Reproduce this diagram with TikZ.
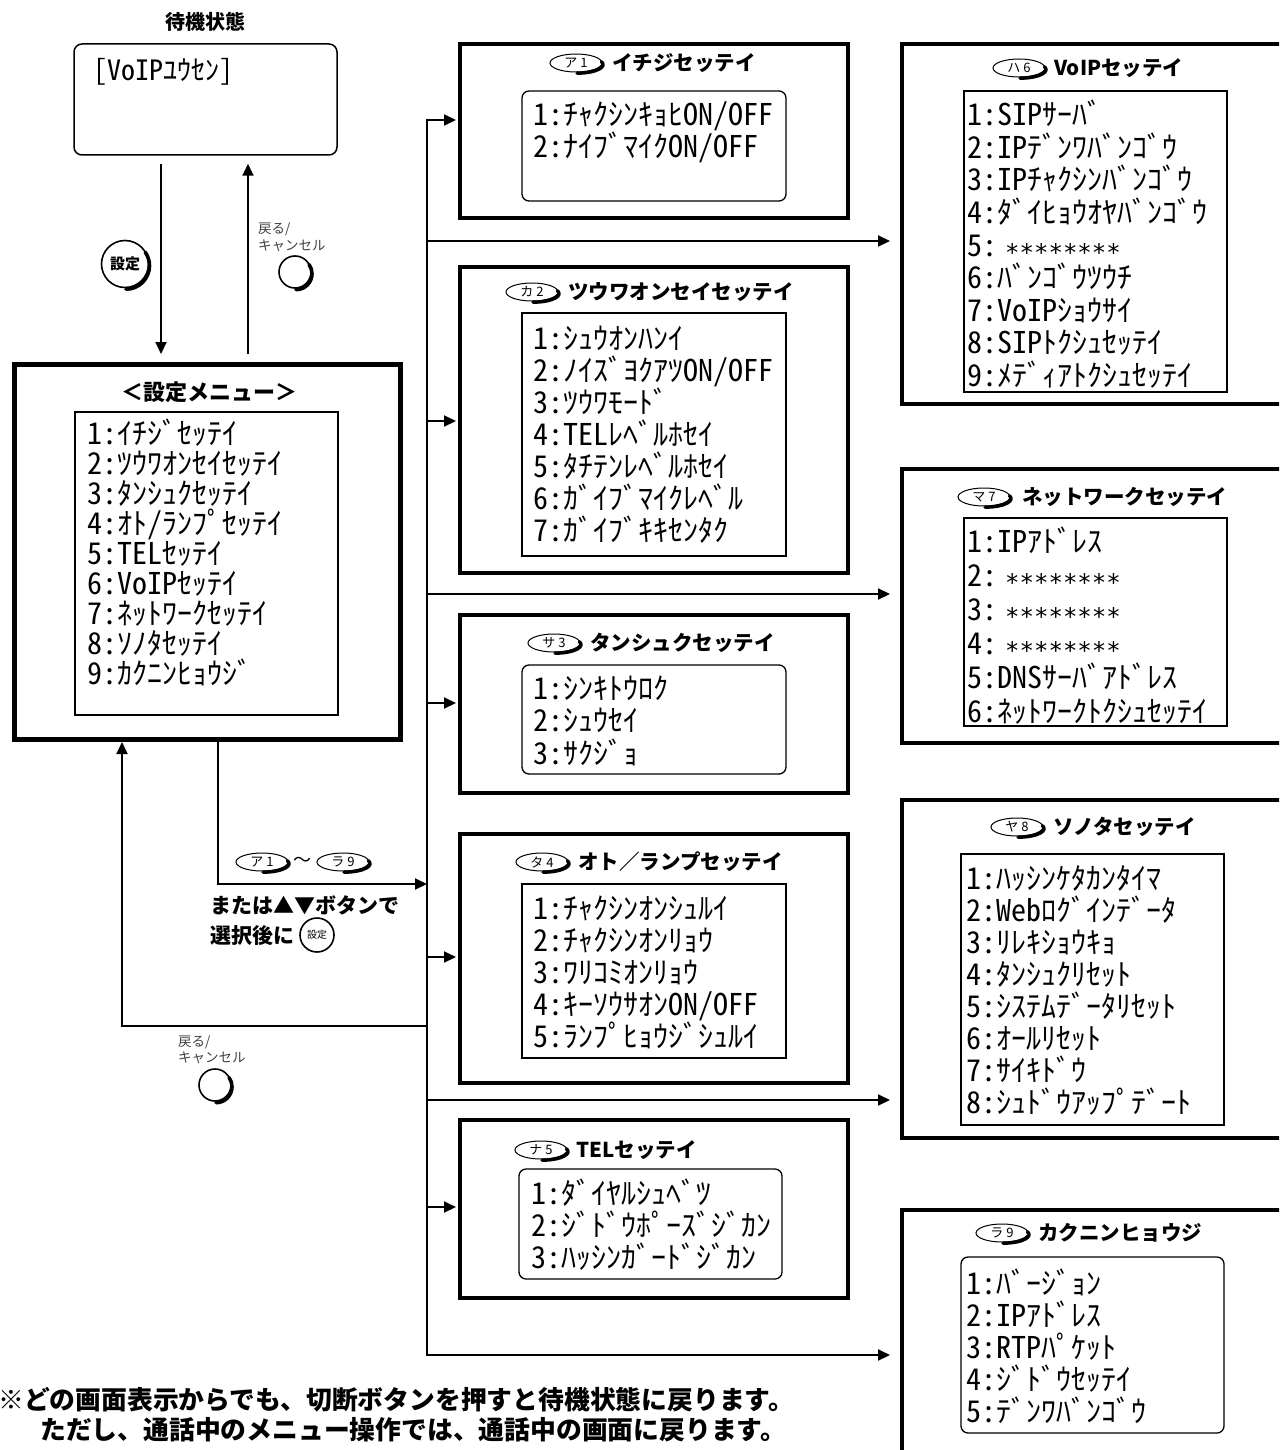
\documentclass[tikz,border=0pt]{standalone}
\usepackage{fontspec}
\usetikzlibrary{arrows.meta,shapes.geometric,calc}
\newfontfamily\jp{Noto Sans CJK JP}
\newfontfamily\jpl[RawFeature=+hwid]{Noto Sans CJK JP}
\newfontfamily\dvm{DejaVu Sans Mono}
\newcommand\boxnode[6][]{\node[#1, minimum width={#5-#3}, minimum height={#6-#4}] (#2) at ({(#3+#5)/2},{(#4+#6)/2}) {};}
\newcommand\listat[5]{\foreach \t [count=\i from 0] in {#5} {\node[listtxt] (#1-\i) at (#2,{#3+\i*#4}) {\t};}}
\newcommand\pillshade[1]{\draw[line width=3.4pt, line cap=round] ([shift={(1,0.7)}]#1.south) arc[start angle=90, end angle=-20, x radius=26, y radius=8.6];}
\newcommand\btnshade[2]{\draw[line width=3.6pt, line cap=round] ([shift={(1,0.9)}]#1.south) arc[start angle=90, end angle=-35, radius=#2];}
\newcommand\maskstars{\hspace{8pt}{\dvm\fontsize{24}{24}\selectfont ∗∗∗∗∗∗∗∗}}
\begin{document}
\begin{tikzpicture}[x=1pt,y=-1pt,
  listtxt/.style={font=\jpl\fontsize{30}{32}\selectfont, anchor=west, inner sep=0pt, text height=22pt, text depth=0pt},
  titletxt/.style={font=\jp\bfseries\fontsize{20.5}{22}\selectfont, anchor=west, inner sep=0pt, text height=15pt, text depth=0pt},
  boldtxt/.style={font=\jp\bfseries\fontsize{21}{22}\selectfont, anchor=west, inner sep=0pt, text height=15pt, text depth=0pt},
  notetxt/.style={font=\jp\bfseries\fontsize{25.8}{26}\selectfont, anchor=west, inner sep=0pt, text height=18pt, text depth=0pt},
  smalltxt/.style={font=\jp\fontsize{13.5}{14}\selectfont, text=black!75, anchor=west, inner sep=0pt},
  bigbox/.style={draw, line width=4pt},
  menubox/.style={draw, line width=5pt},
  inbox/.style={draw, line width=1.3pt},
  inrbox/.style={draw, line width=1.3pt, rounded corners=7pt},
  pill/.style={ellipse, draw, line width=1pt, minimum width=52pt, minimum height=18pt, inner sep=0pt, font=\jp\fontsize{13}{13}\selectfont},
  btn/.style={circle, draw, line width=1.6pt, inner sep=0pt},
  conn/.style={line width=2pt},
  arr/.style={line width=2pt, -{Triangle[length=12pt,width=11pt]}},
]
\useasboundingbox (0,0) rectangle (1279,1450);
\clip (0,0) rectangle (1279,1450);

% ---------- standby ----------
\node[font=\jp\bfseries\fontsize{20}{20}\selectfont, inner sep=0pt] (ttl) at (205,22) {待機状態};
\node[draw, rounded corners=8pt, line width=1.5pt, minimum width=263pt, minimum height=111pt] (stby) at (205.5,99.5) {};
\node[listtxt, font=\jpl\fontsize{28}{30}\selectfont] (stbytxt) at (93,70) {[VoIPﾕｳｾﾝ]};

% ---------- buttons between standby and menu ----------
\node[btn, minimum size=47pt, font=\jp\bfseries\fontsize{15}{15}\selectfont] (setbtn) at (125,264) {設定};
\btnshade{setbtn}{23.5}
\node[smalltxt] (clab1) at (258,229) {戻る/};
\node[smalltxt] (clab1b) at (258,246) {キャンセル};
\node[btn, minimum size=32pt] (cbtn1) at (295,272) {};
\btnshade{cbtn1}{16}

% ---------- menu ----------
\boxnode[menubox]{menu}{14.5}{364.5}{400.5}{739.5}
\node[font=\jp\bfseries\fontsize{22}{24}\selectfont, inner sep=0pt] (menuttl) at (209,392) {＜設定メニュー＞};
\boxnode[inbox]{menuin}{75}{412}{338}{715}
\listat{m}{87}{433}{30}{1:ｲﾁｼﾞｾｯﾃｲ,2:ﾂｳﾜｵﾝｾｲｾｯﾃｲ,3:ﾀﾝｼｭｸｾｯﾃｲ,4:ｵﾄ/ﾗﾝﾌﾟｾｯﾃｲ,5:TELｾｯﾃｲ,6:VoIPｾｯﾃｲ,7:ﾈｯﾄﾜｰｸｾｯﾃｲ,8:ｿﾉﾀｾｯﾃｲ,9:ｶｸﾆﾝﾋｮｳｼﾞ}

% ---------- column 2 ----------
\boxnode[bigbox]{b1}{460}{44}{848}{218}
\node[titletxt] (t1) at (612,63) {イチジセッテイ};
\node[pill] (p1) at (576,63) {ア 1};\pillshade{p1}
\boxnode[inrbox]{b1in}{522}{91}{786}{201}
\listat{l1}{533}{115}{32}{1:ﾁｬｸｼﾝｷｮﾋON/OFF,2:ﾅｲﾌﾞﾏｲｸON/OFF}

\boxnode[bigbox]{b2}{460}{267}{848}{573}
\node[titletxt] (t2) at (568,292) {ツウワオンセイセッテイ};
\node[pill] (p2) at (532,292) {カ 2};\pillshade{p2}
\boxnode[inbox]{b2in}{522}{313}{786}{556}
\listat{l2}{533}{338}{32}{1:ｼｭｳｵﾝﾊﾝｲ,2:ﾉｲｽﾞﾖｸｱﾂON/OFF,3:ﾂｳﾜﾓｰﾄﾞ,4:TELﾚﾍﾞﾙﾎｾｲ,5:ﾀﾁﾃﾝﾚﾍﾞﾙﾎｾｲ,6:ｶﾞｲﾌﾞﾏｲｸﾚﾍﾞﾙ,7:ｶﾞｲﾌﾞｷｷｾﾝﾀｸ}

\boxnode[bigbox]{b3}{460}{615}{848}{793}
\node[titletxt] (t3) at (590,643) {タンシュクセッテイ};
\node[pill] (p3) at (554,643) {サ 3};\pillshade{p3}
\boxnode[inrbox]{b3in}{522}{665}{786}{774}
\listat{l3}{533}{688}{32.5}{1:ｼﾝｷﾄｳﾛｸ,2:ｼｭｳｾｲ,3:ｻｸｼﾞｮ}

\boxnode[bigbox]{b4}{460}{834}{848}{1083}
\node[titletxt] (t4) at (578,862) {オト／ランプセッテイ};
\node[pill] (p4) at (542,862) {タ 4};\pillshade{p4}
\boxnode[inbox]{b4in}{522}{884}{786}{1058}
\listat{l4}{533}{908}{32}{1:ﾁｬｸｼﾝｵﾝｼｭﾙｲ,2:ﾁｬｸｼﾝｵﾝﾘｮｳ,3:ﾜﾘｺﾐｵﾝﾘｮｳ,4:ｷｰｿｳｻｵﾝON/OFF,5:ﾗﾝﾌﾟﾋｮｳｼﾞｼｭﾙｲ}

\boxnode[bigbox]{b5}{460}{1120}{848}{1298}
\node[titletxt] (t5) at (576,1150) {TELセッテイ};
\node[pill] (p5) at (541,1150) {ナ 5};\pillshade{p5}
\boxnode[inrbox]{b5in}{519}{1169}{782}{1279}
\listat{l5}{531}{1193}{32}{1:ﾀﾞｲﾔﾙｼｭﾍﾞﾂ,2:ｼﾞﾄﾞｳﾎﾟｰｽﾞｼﾞｶﾝ,3:ﾊｯｼﾝｶﾞｰﾄﾞｼﾞｶﾝ}

% ---------- column 3 ----------
\boxnode[bigbox]{b6}{902}{44}{1300}{404}
\node[titletxt] (t6) at (1054,68) {VoIPセッテイ};
\node[pill] (p6) at (1019,68) {ハ 6};\pillshade{p6}
\boxnode[inbox]{b6in}{964}{91}{1227}{392}
\listat{l6}{967}{115}{32.5}{1:SIPｻｰﾊﾞ,2:IPﾃﾞﾝﾜﾊﾞﾝｺﾞｳ,3:IPﾁｬｸｼﾝﾊﾞﾝｺﾞｳ,4:ﾀﾞｲﾋｮｳｵﾔﾊﾞﾝｺﾞｳ,5:\maskstars,6:ﾊﾞﾝｺﾞｳﾂｳﾁ,7:VoIPｼｮｳｻｲ,8:SIPﾄｸｼｭｾｯﾃｲ,9:ﾒﾃﾞｨｱﾄｸｼｭｾｯﾃｲ}

\boxnode[bigbox]{b7}{902}{469}{1300}{743}
\node[titletxt] (t7) at (1022,497) {ネットワークセッテイ};
\node[pill] (p7) at (984,497) {マ 7};\pillshade{p7}
\boxnode[inbox]{b7in}{964}{518}{1227}{726}
\listat{l7}{967}{541}{34}{1:IPｱﾄﾞﾚｽ,2:\maskstars,3:\maskstars,4:\maskstars,5:DNSｻｰﾊﾞｱﾄﾞﾚｽ,6:ﾈｯﾄﾜｰｸﾄｸｼｭｾｯﾃｲ}

\boxnode[bigbox]{b8}{902}{800}{1300}{1138}
\node[titletxt] (t8) at (1053,827) {ソノタセッテイ};
\node[pill] (p8) at (1017,827) {ヤ 8};\pillshade{p8}
\boxnode[inbox]{b8in}{961}{854}{1224}{1125}
\listat{l8}{966}{878}{32}{1:ﾊｯｼﾝｹﾀｶﾝﾀｲﾏ,2:Webﾛｸﾞｲﾝﾃﾞｰﾀ,3:ﾘﾚｷｼｮｳｷｮ,4:ﾀﾝｼｭｸﾘｾｯﾄ,5:ｼｽﾃﾑﾃﾞｰﾀﾘｾｯﾄ,6:ｵｰﾙﾘｾｯﾄ,7:ｻｲｷﾄﾞｳ,8:ｼｭﾄﾞｳｱｯﾌﾟﾃﾞｰﾄ}

\boxnode[bigbox]{b9}{902}{1210}{1300}{1480}
\node[titletxt] (t9) at (1038,1233) {カクニンヒョウジ};
\node[pill] (p9) at (1002,1233) {ラ 9};\pillshade{p9}
\boxnode[inrbox]{b9in}{961}{1257}{1224}{1433}
\listat{l9}{966}{1283}{32}{1:ﾊﾞｰｼﾞｮﾝ,2:IPｱﾄﾞﾚｽ,3:RTPﾊﾟｹｯﾄ,4:ｼﾞﾄﾞｳｾｯﾃｲ,5:ﾃﾞﾝﾜﾊﾞﾝｺﾞｳ}

% ---------- connectors ----------
\coordinate (dn) at (161,0);
\coordinate (up) at (248,0);
\draw[arr, shorten <=8pt, shorten >=8pt] (stby.south -| dn) -- (menu.north -| dn);
\draw[arr, shorten <=8pt, shorten >=8pt] (menu.north -| up) -- (stby.south -| up);

% trunk junctions
\coordinate (j1) at (427,120);
\coordinate (j6) at (427,241);
\coordinate (j2) at (427,421);
\coordinate (j7) at (427,594);
\coordinate (j3) at (427,703);
\coordinate (jsel) at (427,884);
\coordinate (j4) at (427,957);
\coordinate (jret) at (427,1026);
\coordinate (j8) at (427,1100);
\coordinate (j5) at (427,1207);
\coordinate (j9) at (427,1355);
\draw[conn, line cap=rect] (j1) -- (j9);
\foreach \j/\b in {j1/b1,j2/b2,j3/b3,j4/b4,j5/b5}
  \draw[arr, shorten >=2pt] (\j) -- (\j -| \b.west);
\foreach \j/\b in {j6/b6,j7/b7,j8/b8,j9/b9}
  \draw[arr, shorten >=10pt] (\j) -- (\j -| \b.west);

\coordinate (mdn) at (218,0);
\coordinate (mret) at (122,0);
\draw[arr] (menu.south -| mdn) |- (jsel);
\draw[arr] (jret) -| (menu.south -| mret);

% selection labels
\node[pill] (pA) at (262,862) {ア 1};\pillshade{pA}
\node[font=\jp\fontsize{18}{18}\selectfont, inner sep=0pt] (tl) at (302.5,862) {～};
\node[pill] (pR) at (343,862) {ラ 9};\pillshade{pR}
\node[boldtxt] (sel1) at (210,906) {または▲▼ボタンで};
\node[boldtxt] (sel2) at (210,936) {選択後に};
\node[btn, minimum size=34pt, font=\jp\fontsize{10}{10}\selectfont] (selbtn) at (317,935) {設定};

% lower cancel button
\node[smalltxt] (clab2) at (178,1042) {戻る/};
\node[smalltxt] (clab2b) at (178,1058) {キャンセル};
\node[btn, minimum size=32pt] (cbtn2) at (215,1085) {};
\btnshade{cbtn2}{16}

% ---------- note ----------
\node[notetxt] (note1) at (-2,1400) {※どの画面表示からでも、切断ボタンを押すと待機状態に戻ります。};
\node[notetxt] (note2) at (40,1430) {ただし、通話中のメニュー操作では、通話中の画面に戻ります。};
\end{tikzpicture}
\end{document}
